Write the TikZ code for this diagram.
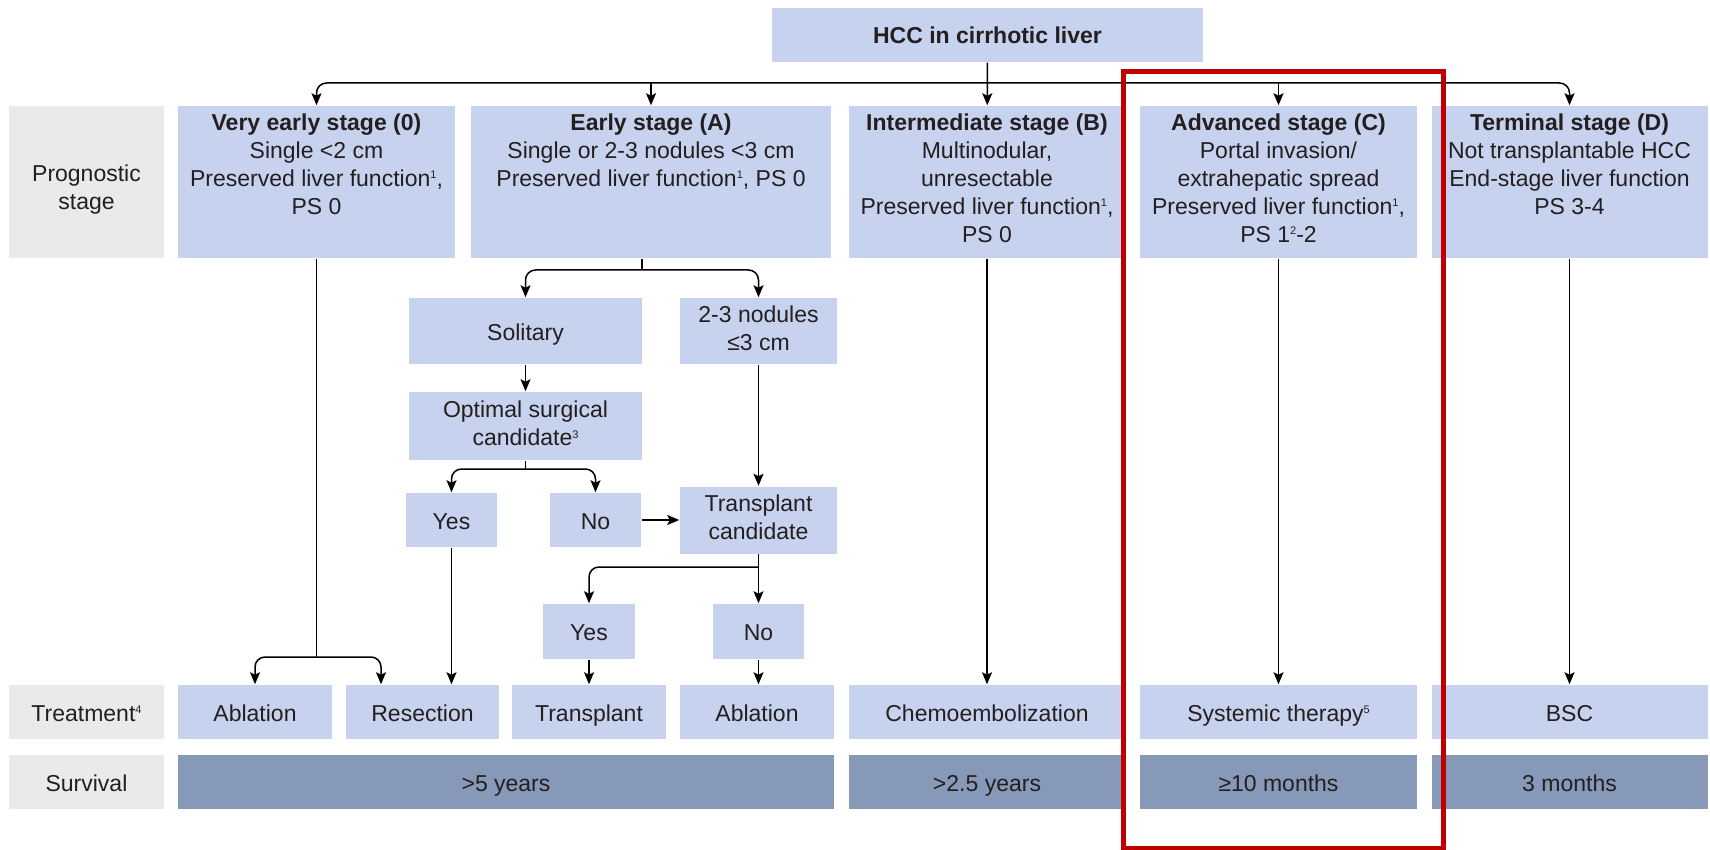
\documentclass[tikz,border=0pt]{standalone}
\usepackage{fontspec}
\setmainfont{Liberation Sans}
\usetikzlibrary{arrows.meta}

\definecolor{boxblue}{RGB}{199,210,238}
\definecolor{survblue}{RGB}{134,153,184}
\definecolor{labelgray}{RGB}{233,234,236}
\definecolor{inkgray}{RGB}{35,31,32}
\definecolor{markred}{RGB}{192,0,0}

\newcommand\fnmark[1]{\raisebox{7.5pt}{\fontsize{11}{11}\selectfont #1}}
\newcommand\cellstrut{\rule[-5pt]{0pt}{28pt}}

\begin{document}
\begin{tikzpicture}[x=1pt, y=-1pt, font=\fontsize{23}{28}\selectfont, text=inkgray,
    line width=1.5pt, >={Stealth[length=12pt, width=10pt, inset=2.5pt]},
    box/.style={fill=boxblue, inner sep=0pt, align=center,
      execute at begin node=\cellstrut, execute at end node=\cellstrut},
    lbl/.style={box, fill=labelgray, minimum width=155pt},
    stagebox/.style={box, minimum height=152pt,
      execute at begin node=\strut, execute at end node=\strut},
    treat/.style={box, minimum height=54pt},
    surv/.style={box, fill=survblue, minimum height=54pt}]

   \useasboundingbox (0,0) rectangle (1710,850);

   \node [box, minimum width=431pt, minimum height=54pt] (hcc) at (987.5,35) {\textbf{HCC in cirrhotic liver}};

   % stages
   \node [lbl, minimum height=152pt] (progLbl) at (86.5,182) {\rule{0pt}{33pt}Prognostic\\stage};
   \node [stagebox, minimum width=277pt] (veryEarly) at (316.5,182)
     {\textbf{Very early stage (0)}\\Single <2 cm\\Preserved liver function\fnmark{1},\\PS 0\\};
   \node [stagebox, minimum width=360pt] (early) at (651,182)
     {\textbf{Early stage (A)}\\Single or 2-3 nodules <3 cm\\Preserved liver function\fnmark{1}, PS 0\\\strut\\};
   \node [stagebox, minimum width=277pt] (interm) at (987,182)
     {\textbf{Intermediate stage (B)}\\Multinodular,\\unresectable\\Preserved liver function\fnmark{1},\\PS 0};
   \node [stagebox, minimum width=277pt] (adv) at (1278.5,182)
     {\textbf{Advanced stage (C)}\\Portal invasion/\\extrahepatic spread\\Preserved liver function\fnmark{1},\\PS 1\fnmark{2}-2};
   \node [stagebox, minimum width=276pt] (term) at (1569.5,182)
     {\textbf{Terminal stage (D)}\\Not transplantable HCC\\End-stage liver function\\PS 3-4\\};

   % early stage branches
   \node [box, minimum width=233pt, minimum height=66pt] (solitary) at (525.5,331) {Solitary};
   \node [box, minimum width=157pt, minimum height=66pt] (nodules) at (758.5,331) {2-3 nodules\\≤3 cm};
   \node [box, minimum width=233pt, minimum height=68pt] (optimal) at (525.5,426) {Optimal surgical\\candidate\fnmark{3}};
   \node [box, minimum width=91pt, minimum height=54pt] (yesA) at (451.5,520) {Yes};
   \node [box, minimum width=91pt, minimum height=54pt] (noA) at (595.5,520) {No};
   \node [box, minimum width=157pt, minimum height=67pt] (transCand) at (758.5,520) {Transplant\\candidate};
   \node [box, minimum width=92pt, minimum height=55pt] (yesB) at (589,631.5) {Yes};
   \node [box, minimum width=91pt, minimum height=55pt] (noB) at (758.5,631.5) {No};

   % treatment
   \node [lbl, minimum height=54pt] (treatLbl) at (86.5,712) {Treatment\fnmark{4}};
   \node [treat, minimum width=154pt] (ablA) at (255,712) {Ablation};
   \node [treat, minimum width=153pt] (resec) at (422.5,712) {Resection};
   \node [treat, minimum width=154pt] (transpl) at (589,712) {Transplant};
   \node [treat, minimum width=154pt] (ablB) at (757,712) {Ablation};
   \node [treat, minimum width=277pt] (chemo) at (987,712) {Chemoembolization};
   \node [treat, minimum width=277pt] (syst) at (1278.5,712) {Systemic therapy\fnmark{5}};
   \node [treat, minimum width=276pt] (bsc) at (1569.5,712) {BSC};

   % survival
   \node [lbl, minimum height=54pt] (survLbl) at (86.5,782) {Survival};
   \node [surv, minimum width=656pt] (surv5) at (506,782) {>5 years};
   \node [surv, minimum width=277pt] (surv25) at (987,782) {>2.5 years};
   \node [surv, minimum width=277pt] (surv10) at (1278.5,782) {≥10 months};
   \node [surv, minimum width=276pt] (surv3) at (1569.5,782) {3 months};

   % connectors
   \coordinate (bar) at (987.5,83);
   \draw [<->, rounded corners=10pt] (veryEarly.north) |- (bar) -| (term.north);
   \draw [->] (bar -| early.north) -- (early.north);
   \draw [->] (bar -| adv.north) -- (adv.north);
   \draw [->] (hcc) -- (interm);

   \coordinate (splitA) at (642,270);
   \draw (early.south -| splitA) -- (splitA);
   \draw [<->, rounded corners=10pt] (solitary.north) |- (splitA) -| (nodules.north);
   \draw [->] (solitary) -- (optimal);

   \coordinate (splitB) at (525.5,469);
   \draw (optimal.south) -- (splitB);
   \draw [<->, rounded corners=10pt] (yesA.north) |- (splitB) -| (noA.north);
   \draw [->] (noA) -- (transCand);
   \draw [->] (nodules) -- (transCand);

   \coordinate (splitC) at (758.5,567);
   \draw [->] (transCand) -- (noB);
   \draw [->, rounded corners=10pt] (splitC) -| (yesB.north);

   \coordinate (splitD) at (316.5,657);
   \draw (veryEarly) -- (splitD);
   \draw [<->, rounded corners=10pt] (ablA.north) |- (splitD) -| ([xshift=-41.5pt]resec.north);
   \draw [->] (yesA) -- (yesA |- resec.north);
   \draw [->] (yesB) -- (transpl);
   \draw [->] (noB) -- (noB |- ablB.north);

   \draw [->] (interm) -- (chemo);
   \draw [->] (adv) -- (syst);
   \draw [->] (term) -- (bsc);

   % highlight
   \draw [markred, line width=5pt] (1123.5,71.5) rectangle (1443.5,848);

\end{tikzpicture}
\end{document}
